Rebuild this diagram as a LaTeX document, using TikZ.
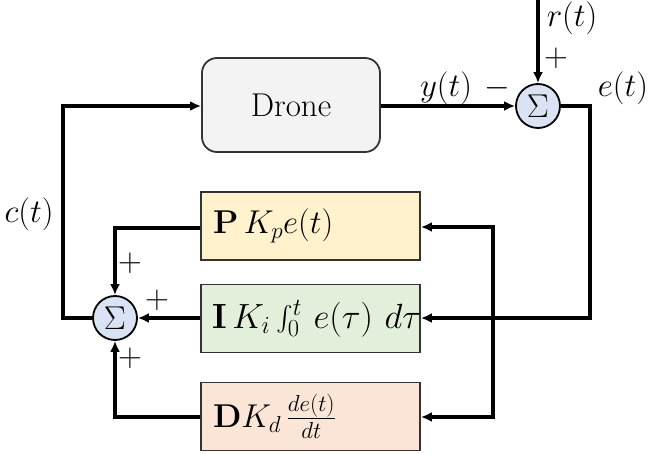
\RequirePackage{fix-cm}
\documentclass[tikz,border=0pt]{standalone}
\usepackage{amsmath}
\usetikzlibrary{arrows.meta,calc}
\definecolor{dronefill}{HTML}{F3F3F3}
\definecolor{pfill}{HTML}{FFF2CC}
\definecolor{ifill}{HTML}{E2EFDA}
\definecolor{dfill}{HTML}{FBE5D6}
\definecolor{sumfill}{HTML}{DAE3F3}
\definecolor{edge}{HTML}{333333}
\tikzset{
  blk/.style={draw=edge, line width=1.8pt, minimum width=219pt, minimum height=68pt,
    text width=195pt, align=left, inner xsep=12pt, inner ysep=0pt, anchor=center},
  sumnode/.style={circle, draw=black, line width=1.8pt, fill=sumfill, minimum size=44pt, inner sep=0pt},
  conn/.style={line width=3.5pt, -{Latex[length=11pt,width=10pt]}},
  lbl/.style={inner sep=0pt}
}
\begin{document}
\begin{tikzpicture}[x=1pt,y=-1pt,font=\fontsize{33}{40}\selectfont]
\useasboundingbox (0,0) rectangle (649,454);
% blocks
\node[draw=edge, line width=1.8pt, rounded corners=15pt, fill=dronefill,
  minimum width=178pt, minimum height=94pt, inner sep=0pt] (drone) at (291,105) {Drone};
\node[blk, fill=pfill] (P) at (310.5,226) {$\mathbf{P}\,K_p e(t)$};
\node[blk, fill=ifill, inner xsep=11pt, text width=197pt, font=\fontsize{35}{40}\selectfont] (I) at (310.5,318.5) {$\mathbf{I}\,K_i\int_0^t\,e(\tau)\ d\tau$};
\node[blk, fill=dfill] (D) at (310.5,416.5) {$\mathbf{D}K_d\,\frac{de(t)}{dt}$};
% sums
\node[sumnode] (s1) at (538,106) {$\Sigma$};
\node[sumnode] (s2) at (115,318) {$\Sigma$};
% coordinates
\coordinate (rin) at (538,0);
\coordinate (e1) at (590,106);
\coordinate (e2) at (590,318);
\coordinate (bx) at (493,318);
\coordinate (pin) at (493,227);
\coordinate (din) at (493,417);
\coordinate (pout) at (115,228);
\coordinate (dout) at (115,417);
\coordinate (c1) at (63,318);
\coordinate (c2) at (63,106);
% connectors
\draw[conn] (rin) -- (s1.north);
\draw[conn] (drone.east |- s1) -- (s1.west);
\draw[conn] (s1.east) -- (e1) -- (e2) -- (I.east |- e2);
\draw[conn] (bx) -- (pin) -- (P.east |- pin);
\draw[conn] (bx) -- (din) -- (D.east |- din);
\draw[conn] (P.west |- pout) -- (pout) -- (s2.north);
\draw[conn] (I.west |- s2) -- (s2.east);
\draw[conn] (D.west |- dout) -- (dout) -- (s2.south);
\draw[conn] (s2.west) -- (c1) -- (c2) -- (drone.west |- c2);
% labels
\node[lbl] (lr) at (572,18) {$r(t)$};
\node[lbl] (lrp) at (556,58) {$+$};
\node[lbl] (ly) at (446,88) {$y(t)$};
\node[lbl] (lym) at (497,88) {$-$};
\node[lbl] (le) at (623,88) {$e(t)$};
\node[lbl] (lc) at (29,214) {$c(t)$};
\node[lbl] (lpp) at (130,263) {$+$};
\node[lbl] (lip) at (157,300) {$+$};
\node[lbl] (ldp) at (130,358) {$+$};
\end{tikzpicture}
\end{document}
